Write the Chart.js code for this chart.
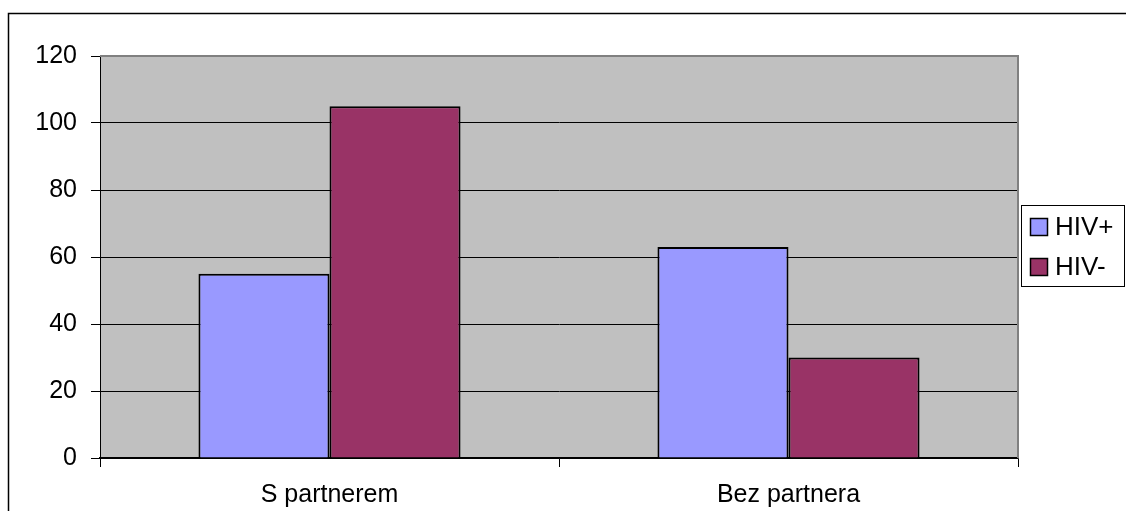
<!DOCTYPE html>
<html>
<head>
<meta charset="utf-8">
<script src="https://cdn.jsdelivr.net/npm/chart.js@4/dist/chart.umd.min.js"></script>
<style>
  html, body { margin: 0; padding: 0; background: #ffffff; }
  #wrap { width: 1126px; height: 511px; position: relative; }
</style>
</head>
<body>
<div id="wrap"><canvas id="c" width="1126" height="511"></canvas></div>
<script>
// Survey groups and counts per HIV status
const categories = ['S partnerem', 'Bez partnera'];
const hivPositive = [55, 63];
const hivNegative = [105, 30];
const seriesNames = ['HIV+', 'HIV-'];
const yTicks = [0, 20, 40, 60, 80, 100, 120];

const FONT = '"Liberation Sans", Arial, sans-serif';

// Gray plot background, plot frame, outer frame and boxed legend
const frame = {
  id: 'frame',
  beforeDraw(chart) {
    const { ctx, chartArea: a } = chart;
    ctx.save();
    ctx.fillStyle = '#ffffff';
    ctx.fillRect(0, 0, chart.width, chart.height);
    ctx.fillStyle = '#c0c0c0';
    ctx.fillRect(a.left, a.top, a.right - a.left, a.bottom - a.top);
    ctx.restore();
  },
  beforeDatasetsDraw(chart) {
    const { ctx, chartArea: a } = chart;
    ctx.save();
    ctx.strokeStyle = '#808080';
    ctx.lineWidth = 2;
    ctx.beginPath();
    ctx.moveTo(a.left, a.top);
    ctx.lineTo(a.right, a.top);
    ctx.lineTo(a.right, a.bottom);
    ctx.stroke();
    ctx.restore();
  },
  afterDraw(chart) {
    const { ctx } = chart;
    ctx.save();
    // outer frame
    ctx.strokeStyle = '#000000';
    ctx.lineWidth = 1.5;
    ctx.strokeRect(8.5, 13.5, 1130, 520);
    // legend
    const lx = 1021.5, ly = 205.5, lw = 103, lh = 81;
    ctx.fillStyle = '#ffffff';
    ctx.fillRect(lx, ly, lw, lh);
    ctx.strokeStyle = '#000000';
    ctx.lineWidth = 1;
    ctx.strokeRect(lx, ly, lw, lh);
    ctx.font = '26px ' + FONT;
    ctx.textBaseline = 'alphabetic';
    ctx.textAlign = 'left';
    chart.data.datasets.forEach((ds, i) => {
      const top = 218 + i * 40;
      ctx.fillStyle = ds.backgroundColor;
      ctx.fillRect(1030.5, top + 0.5, 17, 17);
      ctx.strokeStyle = '#000000';
      ctx.lineWidth = 1.5;
      ctx.strokeRect(1030.5, top + 0.5, 17, 17);
      ctx.fillStyle = '#000000';
      ctx.fillText(ds.label, 1055, top + 17);
    });
    ctx.restore();
  }
};

new Chart(document.getElementById('c'), {
  type: 'bar',
  data: {
    labels: categories,
    datasets: [
      { label: seriesNames[0], data: hivPositive, backgroundColor: '#9999ff', borderColor: '#000000', borderWidth: 2 },
      { label: seriesNames[1], data: hivNegative, backgroundColor: '#993366', borderColor: '#000000', borderWidth: 2 }
    ]
  },
  options: {
    responsive: false,
    animation: false,
    devicePixelRatio: 1,
    layout: { padding: { left: 0, right: 108, top: 56, bottom: 0 } },
    datasets: { bar: { categoryPercentage: 0.571, barPercentage: 1 } },
    plugins: { legend: { display: false }, tooltip: { enabled: false } },
    scales: {
      x: {
        offset: true,
        grid: { offset: true, drawOnChartArea: false, drawTicks: true, tickLength: 9, color: '#000000', lineWidth: 1 },
        border: { display: true, color: '#000000', width: 1.5 },
        ticks: { color: '#000000', font: { family: FONT, size: 25 }, padding: 13 },
        afterFit(scale) { scale.height = 53; }
      },
      y: {
        min: 0,
        max: 120,
        afterBuildTicks(scale) { scale.ticks = yTicks.map(v => ({ value: v })); },
        grid: {
          drawTicks: true,
          tickLength: 9,
          lineWidth: 1,
          color(ctx) { return ctx.tick && ctx.tick.value === 120 ? 'rgba(0,0,0,0)' : '#000000'; },
          tickColor: '#000000'
        },
        border: { display: true, color: '#000000', width: 1 },
        ticks: { color: '#000000', font: { family: FONT, size: 25 }, padding: 14 },
        afterFit(scale) { scale.width = 100; }
      }
    }
  },
  plugins: [frame]
});
</script>
</body>
</html>
